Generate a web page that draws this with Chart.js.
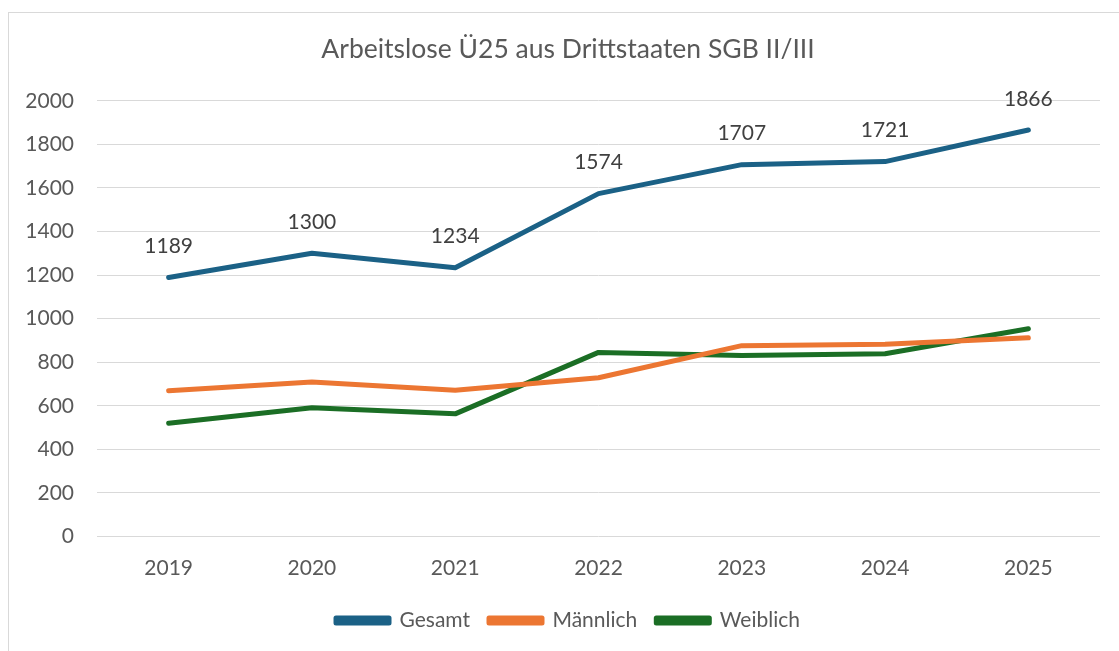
<!DOCTYPE html>
<html>
<head>
<meta charset="utf-8">
<script src="https://cdn.jsdelivr.net/npm/chart.js@4"></script>
<style>
  html, body { margin: 0; padding: 0; background: #fff; }
  #frame {
    position: absolute; left: 8px; top: 12px;
    width: 1200px; height: 700px;
    border: 1px solid #d9d9d9;
  }
  #wrap { position: absolute; left: 0; top: 0; width: 1119px; height: 651px; }
</style>
</head>
<body>
<div id="frame"></div>
<div id="wrap"><canvas id="chart"></canvas></div>
<script>
const years = ["2019", "2020", "2021", "2022", "2023", "2024", "2025"];
const gesamt = [1189, 1300, 1234, 1574, 1707, 1721, 1866];
const maennlich = [669, 709, 671, 729, 876, 882, 912];
const weiblich = [520, 591, 563, 845, 831, 839, 954];

const FONT = "Lato, 'Open Sans', sans-serif";
const GREY = "#595959";

// value labels above the Gesamt line only
const valueLabels = {
  id: "valueLabels",
  afterDatasetsDraw(chart) {
    const ctx = chart.ctx;
    const meta = chart.getDatasetMeta(0);
    ctx.save();
    ctx.font = "21px " + FONT;
    ctx.fillStyle = "#404040";
    ctx.textAlign = "center";
    ctx.textBaseline = "middle";
    meta.data.forEach((pt, i) => {
      ctx.fillText(String(gesamt[i]), pt.x, pt.y - 31);
    });
    ctx.restore();
  }
};

// legend keeps wide item spacing but takes less height (drawn 8px higher)
const legendTrim = {
  id: "legendTrim",
  beforeLayout(chart) {
    const lg = chart.legend;
    if (lg && !lg._trimmed) {
      const fit = lg.fit.bind(lg);
      const draw = lg.draw.bind(lg);
      lg.fit = function () { fit(); this.height -= 8; };
      lg.draw = function () {
        const ctx = this.ctx;
        ctx.save();
        ctx.translate(0, -8);
        draw();
        ctx.restore();
      };
      lg._trimmed = true;
    }
  }
};

new Chart(document.getElementById("chart"), {
  type: "line",
  data: {
    labels: years,
    datasets: [
      { label: "Gesamt", data: gesamt, borderColor: "#1b6186", backgroundColor: "#1b6186" },
      { label: "Männlich", data: maennlich, borderColor: "#ec7632", backgroundColor: "#ec7632" },
      { label: "Weiblich", data: weiblich, borderColor: "#1b6e25", backgroundColor: "#1b6e25" }
    ]
  },
  options: {
    responsive: true,
    maintainAspectRatio: false,
    animation: false,
    elements: {
      line: { borderWidth: 5, tension: 0, borderCapStyle: "round", borderJoinStyle: "round" },
      point: { radius: 0, hoverRadius: 0 }
    },
    layout: { padding: { left: 17, right: 0, top: 0, bottom: 10 } },
    scales: {
      x: {
        offset: true,
        grid: { display: false, drawTicks: false },
        border: { display: false },
        ticks: { color: GREY, font: { family: FONT, size: 21, lineHeight: 0.5 }, padding: 26 }
      },
      y: {
        min: 0,
        max: 2000,
        afterFit(scale) { scale.width = 80; },
        grid: { color: "#d9d9d9", lineWidth: 1, drawTicks: false },
        border: { display: false },
        ticks: {
          stepSize: 200, color: GREY, font: { family: FONT, size: 21 }, padding: 23,
          callback: (v) => String(v)
        }
      },
      // empty right-hand spacer so title and legend centre like the original
      yRight: {
        position: "right",
        afterFit(scale) { scale.width = 19; },
        grid: { display: false },
        border: { display: false },
        ticks: { display: false }
      }
    },
    plugins: {
      title: {
        display: true,
        text: "Arbeitslose Ü25 aus Drittstaaten SGB II/III",
        color: GREY,
        font: { family: FONT, size: 26.5, weight: "normal" },
        padding: { top: 34, bottom: 35 }
      },
      legend: {
        position: "bottom",
        labels: {
          color: GREY,
          font: { family: FONT, size: 21 },
          boxWidth: 53,
          boxHeight: 5,
          padding: 19
        }
      },
      tooltip: { enabled: false }
    }
  },
  plugins: [valueLabels, legendTrim]
});
</script>
</body>
</html>
